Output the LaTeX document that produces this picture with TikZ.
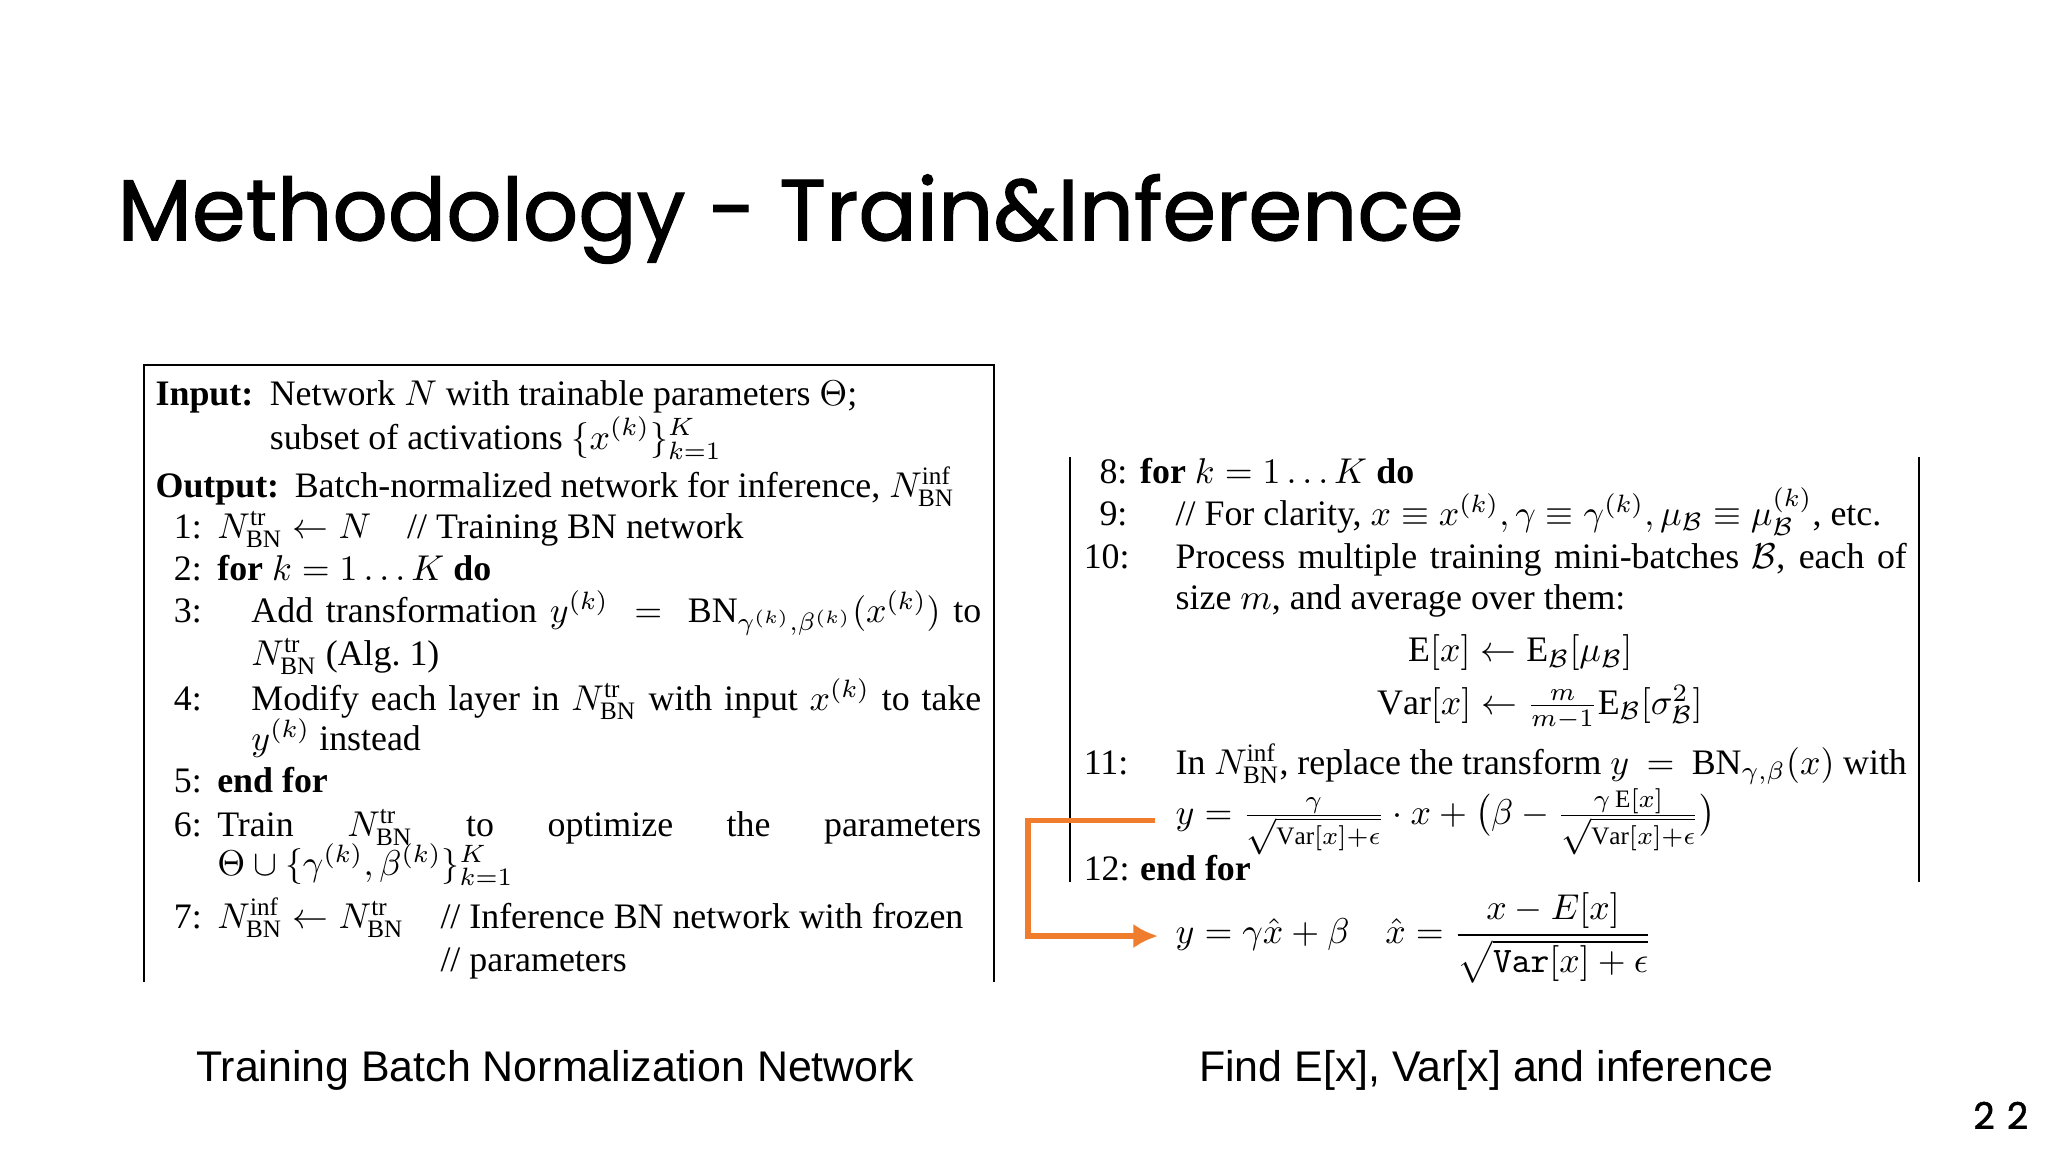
\RequirePackage{fix-cm}
\documentclass[tikz,border=0pt]{standalone}
\usepackage{amsmath}
\usepackage{fontspec}
\usetikzlibrary{arrows.meta}
\setmainfont{Liberation Serif}
\newfontfamily\titlefont{Poppins}[FakeBold=1.3]
\newfontfamily\capfont{Liberation Sans}
\newlength\px \setlength\px{0.013128cm}
\definecolor{arrorange}{RGB}{240,125,45}
\tikzset{t/.style={anchor=base west,inner sep=0pt,font=\fontsize{10.2}{12}\selectfont},
 tc/.style={anchor=base,inner sep=0pt,font=\fontsize{10.2}{12}\selectfont},
 frame/.style={line width=0.6pt}}
\newcommand{\NBN}[1]{N^{\mathrm{#1}}_{\mathrm{BN}}}
\begin{document}
\begin{tikzpicture}[x=0.013128cm,y=-0.013128cm]
\useasboundingbox[fill=white] (0,0) rectangle (1560,877.5);
\node[anchor=base west,inner sep=0pt,font=\titlefont\fontsize{24.6}{30}\selectfont] (title) at (89,183) {Methodology - Train\&Inference};
% left box
\draw[frame] (110,748) -- (110,278) -- (757,278) -- (757,748);
\node[t] (in) at (118,309) {\textbf{Input:}};
\node[t] (in1) at (205,309) {Network $N$ with trainable parameters $\Theta$;};
\node[t] (in2) at (205,342) {subset of activations $\{x^{(k)}\}_{k=1}^{K}$};
\node[t] (out) at (118,379) {\textbf{Output:}};
\node[t] (out1) at (224,379) {Batch-normalized network for inference, $\NBN{inf}$};
\node[t] (l1n) at (132,410) {1:};
\node[t] (l1) at (165,410) {$\NBN{tr}\leftarrow N$\quad // Training BN network};
\node[t] (l2n) at (132,442) {2:};
\node[t] (l2) at (165,442) {\textbf{for} $k=1\ldots K$ \textbf{do}};
\node[t] (l3n) at (132,474) {3:};
\node[t] (l3) at (191,474) {\makebox[556\px][s]{Add transformation $y^{(k)}$ \ $=$ \ $\mathrm{BN}_{\gamma^{(k)},\beta^{(k)}}(x^{(k)})$ to}};
\node[t] (l3b) at (191,507) {$\NBN{tr}$ (Alg.~1)};
\node[t] (l4n) at (132,541) {4:};
\node[t] (l4) at (191,541) {\makebox[556\px][s]{Modify each layer in $\NBN{tr}$ with input $x^{(k)}$ to take}};
\node[t] (l4b) at (191,572) {$y^{(k)}$ instead};
\node[t] (l5n) at (132,604) {5:};
\node[t] (l5) at (165,604) {\textbf{end for}};
\node[t] (l6n) at (132,637) {6:};
\node[t] (l6) at (165,637) {\makebox[582\px][s]{Train \ $\NBN{tr}$ \ to \ optimize \ the \ parameters}};
\node[t] (l6b) at (165,667) {$\Theta\cup\{\gamma^{(k)},\beta^{(k)}\}_{k=1}^{K}$};
\node[t] (l7n) at (132,707) {7:};
\node[t] (l7) at (165,707) {$\NBN{inf}\leftarrow\NBN{tr}$};
\node[t] (l7c) at (335,707) {// Inference BN network with frozen};
\node[t] (l7d) at (335,740) {// parameters};
% right box
\draw[frame] (815,348) -- (815,672);
\draw[frame] (1462,348) -- (1462,672);
\node[t] (r8n) at (837,368) {8:};
\node[t] (r8) at (868,368) {\textbf{for} $k=1\ldots K$ \textbf{do}};
\node[t] (r9n) at (837,400) {9:};
\node[t] (r9) at (895,400) {// For clarity, $x\equiv x^{(k)}, \gamma\equiv\gamma^{(k)}, \mu_{\mathcal B}\equiv\mu_{\mathcal B}^{(k)}$, etc.};
\node[t] (r10n) at (825,433) {10:};
\node[t] (r10) at (895,433) {\makebox[557\px][s]{Process multiple training mini-batches $\mathcal B$, each of}};
\node[t] (r10b) at (895,464) {size $m$, and average over them:};
\node[tc] (e1) at (1158,504) {$\mathrm{E}[x]\leftarrow \mathrm{E}_{\mathcal B}[\mu_{\mathcal B}]$};
\node[tc] (e2) at (1173,544) {$\mathrm{Var}[x]\leftarrow \frac{m}{m-1}\mathrm{E}_{\mathcal B}[\sigma^2_{\mathcal B}]$};
\node[t] (r11n) at (825,590) {11:};
\node[t] (r11) at (895,590) {\makebox[557\px][s]{In $\NBN{inf}$, replace the transform $y$ \ $=$ \ $\mathrm{BN}_{\gamma,\beta}(x)$ with}};
\node[t] (r11b) at (895,628) {$y=\frac{\gamma}{\sqrt{\mathrm{Var}[x]+\epsilon}}\cdot x+\big(\beta-\frac{\gamma\,\mathrm{E}[x]}{\sqrt{\mathrm{Var}[x]+\epsilon}}\big)$};
\node[t] (r12n) at (825,671) {12:};
\node[t] (r12) at (868,671) {\textbf{end for}};
\node[t] (fin) at (895,719) {$y=\gamma\hat{x}+\beta\quad \hat{x}=\dfrac{x-E[x]}{\sqrt{\mathtt{Var}[x]+\epsilon}}$};
% connector
\coordinate (cs) at (880,625);
\coordinate (ce) at (882,713);
\draw[arrorange,line width=1.6pt,-{Latex[length=7pt,width=7pt]}] (cs) -- (783,625) -- (783,713) -- (ce);
% captions
\node[anchor=base,inner sep=0pt,font=\capfont\fontsize{12.2}{14}\selectfont] (c1) at (423,824) {Training Batch Normalization Network};
\node[anchor=base,inner sep=0pt,font=\capfont\fontsize{12.2}{14}\selectfont] (c2) at (1132,824) {Find E[x], Var[x] and inference};
\node[anchor=base,inner sep=0pt,font=\titlefont\fontsize{10.5}{13}\selectfont] (pg) at (1524,860) {2\,\,2};
\end{tikzpicture}
\end{document}
